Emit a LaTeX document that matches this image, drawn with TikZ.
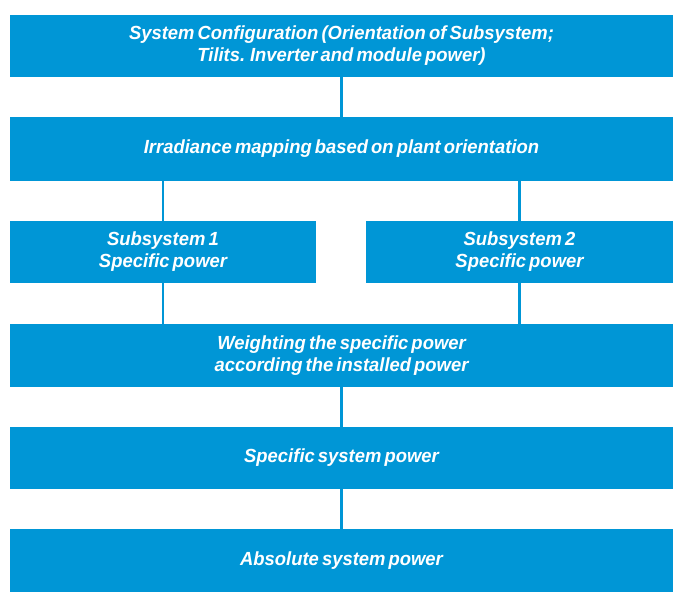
\documentclass[tikz,border=0pt]{standalone}
\usepackage{fontspec}
\setmainfont{Liberation Sans}[WordSpace=0.6,FakeStretch=0.97]
\definecolor{boxblue}{RGB}{0,150,214}
\tikzset{
  box/.style={draw=none, fill=boxblue, text=white, font=\fontsize{19}{22}\selectfont\bfseries\itshape, align=center, inner sep=0pt, minimum height=63pt},
  link/.style={draw=boxblue, line width=2.4pt}
}
\begin{document}
\begin{tikzpicture}[x=1pt,y=-1pt]
\useasboundingbox (0,0) rectangle (682,602);
\node[box, minimum width=663pt, minimum height=62pt] (b1) at (341.5,46) {System Configuration (Orientation of Subsystem;\\Tilits. Inverter and module power)};
\node[box, minimum width=663pt, minimum height=64pt] (b2) at (341.5,149) {Irradiance mapping based on plant orientation};
\node[box, minimum width=306pt, minimum height=62pt] (s1) at (163,252) {Subsystem 1\\Specific power};
\node[box, minimum width=307pt, minimum height=62pt] (s2) at (519.5,252) {Subsystem 2\\Specific power};
\node[box, minimum width=663pt, minimum height=63pt] (b4) at (341.5,355.5) {Weighting the specific power\\according the installed power};
\node[box, minimum width=663pt, minimum height=62pt] (b5) at (341.5,458) {Specific system power};
\node[box, minimum width=663pt, minimum height=63pt] (b6) at (341.5,560.5) {Absolute system power};
\draw[link] (b1.south) -- (b2.north);
\draw[link] (s1.north) -- (s1.north |- b2.south);
\draw[link] (s2.north) -- (s2.north |- b2.south);
\draw[link] (s1.south) -- (s1.south |- b4.north);
\draw[link] (s2.south) -- (s2.south |- b4.north);
\draw[link] (b4.south) -- (b5.north);
\draw[link] (b5.south) -- (b6.north);
\end{tikzpicture}
\end{document}
